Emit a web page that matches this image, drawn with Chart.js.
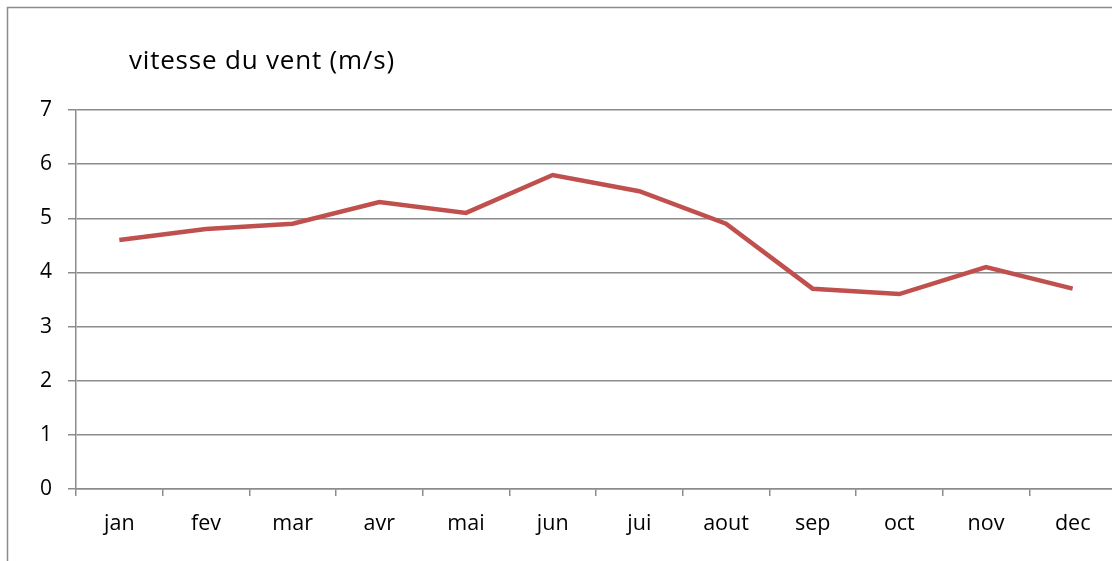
<!DOCTYPE html>
<html><head><meta charset="utf-8">
<script src="https://cdn.jsdelivr.net/npm/chart.js@4/dist/chart.umd.min.js"></script>
<style>html,body{margin:0;padding:0;overflow:hidden;background:#fff;width:1112px;height:561px}
#wrap{position:absolute;left:0;top:0;width:1120px;height:561px}</style>
</head><body>
<div id="wrap"><canvas id="c" width="1120" height="561"></canvas></div>
<script>
const title = "vitesse du vent (m/s)";
const months = ["jan","fev","mar","avr","mai","jun","jui","aout","sep","oct","nov","dec"];
const windSpeed = [4.6,4.8,4.9,5.3,5.1,5.8,5.5,4.9,3.7,3.6,4.1,3.7];
const yTicks = [0,1,2,3,4,5,6,7];

const FONT = "'Open Sans', sans-serif";
const frame = {
  id:'frame',
  beforeDraw(chart){
    const ctx = chart.ctx;
    ctx.save();
    ctx.strokeStyle = '#8c8c8c';
    ctx.lineWidth = 1.5;
    ctx.strokeRect(7.5,7.5,3000,3000);
    ctx.restore();
  },
  afterDraw(chart){
    const ctx = chart.ctx;
    ctx.save();
    ctx.fillStyle = '#000';
    ctx.font = "26px " + FONT;
    try { ctx.letterSpacing = '0.8px'; } catch(e) {}
    ctx.textBaseline = 'alphabetic';
    ctx.fillText(title, 129, 69);
    ctx.restore();
  }
};

new Chart(document.getElementById('c'), {
  type:'line',
  data:{labels:months, datasets:[{data:windSpeed, borderColor:'#c0504d', borderWidth:4.5, pointRadius:0, tension:0, fill:false}]},
  options:{
    responsive:false, animation:false,
    layout:{padding:{top:110, right:4, left:0, bottom:0}},
    plugins:{legend:{display:false}, tooltip:{enabled:false}},
    scales:{
      x:{
        offset:true,
        grid:{display:true, drawOnChartArea:false, drawTicks:true, tickLength:7, offset:true, color:'#8c8c8c', lineWidth:1.5},
        border:{display:true, color:'#8c8c8c', width:1.5},
        ticks:{color:'#000', font:{family:FONT, size:21.5}, padding:15, maxRotation:0, autoSkip:false},
        afterFit(s){ s.height = 72; }
      },
      y:{
        min:0, max:7,
        afterBuildTicks(s){ s.ticks = yTicks.map(v=>({value:v})); },
        grid:{color:'#8c8c8c', lineWidth:1.5, tickLength:8},
        border:{display:true, color:'#8c8c8c', width:1.5},
        ticks:{color:'#000', font:{family:FONT, size:21}, padding:16},
        afterFit(s){ s.width = 76; }
      }
    }
  },
  plugins:[frame]
});
</script>
</body></html>
